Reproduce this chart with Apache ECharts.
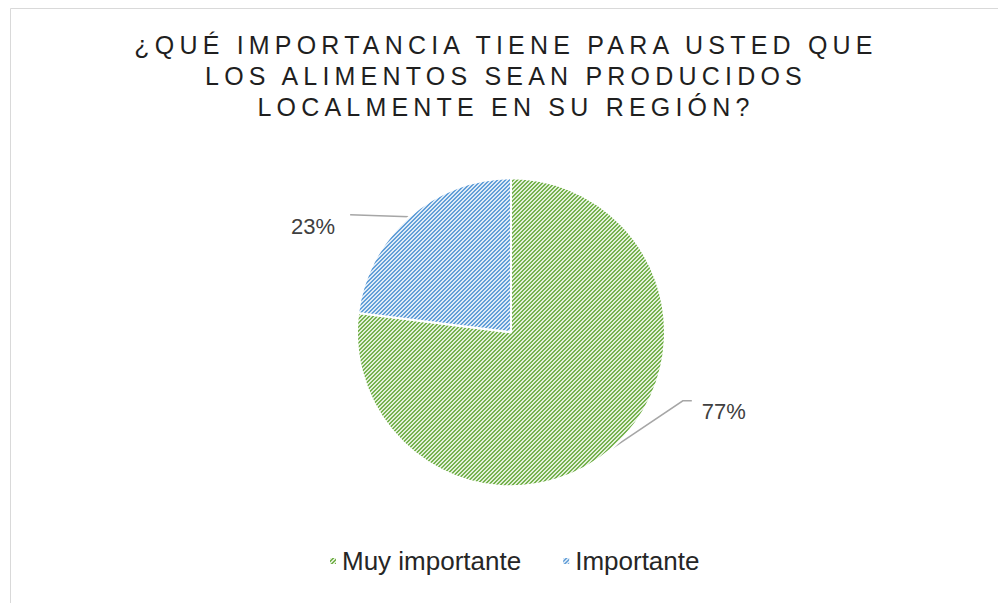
<!DOCTYPE html>
<html>
<head>
<meta charset="utf-8">
<script src="https://cdn.jsdelivr.net/npm/echarts@6/dist/echarts.min.js"></script>
<style>
    html, body { margin: 0; background: #fff; }
    #chart { width: 998px; height: 603px; }
</style>
</head>
<body>
<div id="chart"></div>
<script>
// datos del gráfico
var titleLines = ['¿QUÉ IMPORTANCIA TIENE PARA USTED QUE', 'LOS ALIMENTOS SEAN PRODUCIDOS', 'LOCALMENTE EN SU REGIÓN?'];
var categories = ['Muy importante', 'Importante'];
var values = [77, 23];

// trama rayada tipo Excel
function stripes(fg, bg) {
    var c = document.createElement('canvas');
    c.width = 4;
    c.height = 4;
    var ctx = c.getContext('2d');
    for (var x = 0; x < 4; x++) {
        for (var y = 0; y < 4; y++) {
            ctx.fillStyle = ((x + y) % 4 < 2) ? fg : bg;
            ctx.fillRect(x, y, 1, 1);
        }
    }
    return { image: c, repeat: 'repeat', imageWidth: 4, imageHeight: 4 };
}
var fills = [stripes('#76b24e', '#e2f0d9'), stripes('#639fd8', '#deebf7')];

var chart = echarts.init(document.getElementById('chart'), null, { renderer: 'svg' });
var W = chart.getWidth(), H = chart.getHeight();
var cx = W * 0.512, cy = H * 0.551, r = 154;

var total = values.reduce(function (a, b) { return a + b; }, 0);
function midPoint(i) {
    var cum = 0;
    for (var k = 0; k < i; k++) cum += values[k];
    var a = (90 - 360 * (cum + values[i] / 2) / total) * Math.PI / 180;
    return [cx + r * Math.cos(a), cy - r * Math.sin(a)];
}

// desplazamientos de etiquetas y guías
var labelTweaks = [
    { line: [[70, -47], [79, -47]], label: [89, -36], align: 'left' },
    { line: [[-30, -1], [-59, -2]], label: [-74, 10], align: 'right' }
];

var data = categories.map(function (name, i) {
    return { name: name, value: values[i], itemStyle: { color: fills[i] } };
});

chart.setOption({
    animation: false,
    title: {
        text: titleLines.join('\n'),
        left: '50.2%',
        textAlign: 'center',
        top: 24,
        textStyle: {
            fontFamily: 'Liberation Sans',
            fontWeight: 'normal',
            fontSize: 25,
            lineHeight: 31,
            color: '#1f1f1f'
        }
    },
    legend: {
        bottom: 24,
        left: 323,
        icon: 'rect',
        itemWidth: 8,
        itemHeight: 8,
        itemGap: 40,
        textStyle: {
            fontFamily: 'Liberation Sans',
            fontSize: 26,
            color: '#262626'
        },
        data: categories
    },
    graphic: [{
        type: 'rect',
        left: 8,
        top: 6,
        silent: true,
        shape: { width: 1000, height: 620 },
        style: { fill: 'none', stroke: '#d9d9d9', lineWidth: 1 }
    }],
    series: [{
        type: 'pie',
        center: [cx, cy],
        radius: r,
        startAngle: 90,
        clockwise: true,
        itemStyle: { borderColor: '#fff', borderWidth: 2 },
        label: {
            show: true,
            position: 'outside',
            formatter: '{d}%',
            fontFamily: 'Liberation Sans',
            fontSize: 22,
            color: '#404040'
        },
        labelLine: {
            show: true,
            lineStyle: { color: '#a6a6a6', width: 1.5 }
        },
        labelLayout: function (p) {
            var i = p.dataIndex;
            var m = midPoint(i);
            var t = labelTweaks[i];
            var pts = [m].concat(t.line.map(function (d) { return [m[0] + d[0], m[1] + d[1]]; }));
            return {
                x: m[0] + t.label[0],
                y: m[1] + t.label[1],
                align: t.align,
                verticalAlign: 'middle',
                labelLinePoints: pts
            };
        },
        data: data
    }]
});

// espaciado entre letras del título
function spaceTitle() {
    var nodes = document.querySelectorAll('#chart text');
    for (var i = 0; i < nodes.length; i++) {
        if (titleLines.indexOf(nodes[i].textContent) > -1) {
            nodes[i].setAttribute('letter-spacing', '5.2');
        }
    }
}
chart.on('finished', spaceTitle);
setTimeout(spaceTitle, 0);
</script>
</body>
</html>
